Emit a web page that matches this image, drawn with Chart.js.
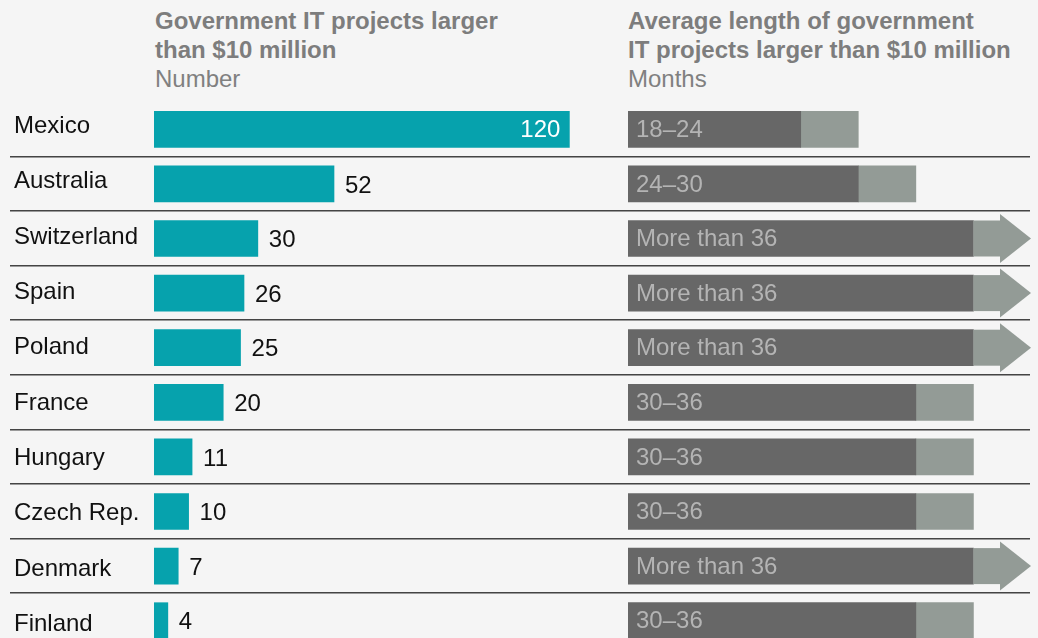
<!DOCTYPE html>
<html>
<head>
<meta charset="utf-8">
<script src="https://cdn.jsdelivr.net/npm/chart.js@4.4.1/dist/chart.umd.min.js"></script>
<style>
  html, body { margin: 0; padding: 0; background: #f5f5f5; overflow: hidden; }
  #wrap { position: relative; width: 1038px; height: 638px; overflow: hidden; background: #f5f5f5; }
  canvas { position: absolute; left: 0; top: 0; }
  .title {
    position: absolute; top: 6px;
    font-family: 'Liberation Sans', Arial, sans-serif;
    font-size: 24px; line-height: 29px; color: #808080; white-space: nowrap;
  }
  .title b { font-weight: bold; color: #7d7d7d; }
</style>
</head>
<body>
<div id="wrap">
  <div class="title" style="left:155px"><b>Government IT projects larger<br>than $10 million</b><br>Number</div>
  <div class="title" style="left:628px"><b>Average length of government<br>IT projects larger than $10 million</b><br>Months</div>
  <canvas id="counts" width="1038" height="700"></canvas>
  <canvas id="months" width="1038" height="700"></canvas>
</div>
<script>
const FONT = "'Liberation Sans', Arial, sans-serif";

// Countries, top to bottom
const countries = ['Mexico', 'Australia', 'Switzerland', 'Spain', 'Poland',
                   'France', 'Hungary', 'Czech Rep.', 'Denmark', 'Finland'];
// Number of government IT projects larger than $10 million
const projectCounts = [120, 52, 30, 26, 25, 20, 11, 10, 7, 4];
// Average project length in months: lower and upper bound (null = open-ended)
const monthLow  = [18, 24, 36, 36, 36, 30, 30, 30, 36, 30];
const monthHigh = [24, 30, null, null, null, 36, 36, 36, null, 36];
const monthLabels = ['18–24', '24–30', 'More than 36', 'More than 36', 'More than 36',
                     '30–36', '30–36', '30–36', 'More than 36', '30–36'];
// Where open-ended ranges point to on the months axis
const OPEN_END = 42;
// Extent of the country-name axis (row index units)
const NAMES_MIN = 0.052, NAMES_MAX = 8.936;

const TEAL = '#06a2ad';
const DARK = '#676767';
const LIGHT = '#939b96';

// Horizontal rules between the country rows, across the full width
const separators = {
  id: 'separators',
  beforeDatasetsDraw(chart) {
    const y = chart.scales.y, ctx = chart.ctx;
    ctx.save();
    for (let i = 1; i < countries.length; i++) {
      const py = Math.round((y.getPixelForValue(i - 1) + y.getPixelForValue(i)) / 2);
      ctx.fillStyle = '#444444';
      ctx.fillRect(10, py - 1, 1020, 1);
      ctx.fillStyle = '#9a9a9a';
      ctx.fillRect(10, py, 1020, 1);
    }
    ctx.restore();
  }
};

// Value labels for the project counts
const countLabels = {
  id: 'countLabels',
  afterDatasetsDraw(chart) {
    const ctx = chart.ctx;
    const meta = chart.getDatasetMeta(0);
    ctx.save();
    ctx.font = '24px ' + FONT;
    ctx.textBaseline = 'middle';
    meta.data.forEach((bar, i) => {
      const v = projectCounts[i];
      if (bar.x - bar.base > 300) {
        ctx.fillStyle = '#ffffff';
        ctx.textAlign = 'right';
        ctx.fillText(String(v), bar.x - 9, bar.y + 1);
      } else {
        ctx.fillStyle = '#111111';
        ctx.textAlign = 'left';
        ctx.fillText(String(v), bar.x + 11, bar.y + 2);
      }
    });
    ctx.restore();
  }
};

new Chart(document.getElementById('counts'), {
  type: 'bar',
  data: {
    labels: countries,
    datasets: [{ data: projectCounts, backgroundColor: TEAL, barThickness: 36 }]
  },
  options: {
    indexAxis: 'y',
    responsive: false,
    animation: false,
    layout: { padding: { left: 14, right: 434, top: 102, bottom: 52 } },
    plugins: { legend: { display: false }, tooltip: { enabled: false } },
    scales: {
      x: { min: 0, max: 130, display: false },
      y: { display: false },
      // Country names, on a slightly looser row pitch than the bars
      names: {
        type: 'linear',
        position: 'left',
        reverse: true,
        bounds: 'data',
        min: NAMES_MIN,
        max: NAMES_MAX,
        grid: { display: false },
        border: { display: false },
        afterBuildTicks(scale) {
          scale.ticks = countries.map((_, i) => ({ value: i }));
          scale.min = NAMES_MIN;
          scale.max = NAMES_MAX;
        },
        ticks: {
          crossAlign: 'far', autoSkip: false, padding: 0,
          color: '#111111', font: { family: FONT, size: 24 },
          callback: v => countries[v]
        },
        afterFit(scale) { scale.width = 140; }
      }
    }
  },
  plugins: [separators, countLabels]
});

// Arrowheads for open-ended ranges, and the range text inside the bars
const rangeDecor = {
  id: 'rangeDecor',
  afterDatasetsDraw(chart) {
    const ctx = chart.ctx;
    const dark = chart.getDatasetMeta(0).data;
    const range = chart.getDatasetMeta(1).data;
    ctx.save();
    range.forEach((el, i) => {
      if (monthHigh[i] !== null) return;
      const h = el.height || 36;
      const headLen = 31, headHalf = h * 0.68;
      const start = Math.min(el.base, el.x), tip = Math.max(el.base, el.x);
      ctx.fillStyle = LIGHT;
      ctx.fillRect(start, el.y - h / 2, tip - headLen - start, h);
      ctx.beginPath();
      ctx.moveTo(tip - headLen, el.y - headHalf);
      ctx.lineTo(tip, el.y);
      ctx.lineTo(tip - headLen, el.y + headHalf);
      ctx.closePath();
      ctx.fill();
    });
    ctx.font = '24px ' + FONT;
    ctx.textBaseline = 'middle';
    ctx.textAlign = 'left';
    ctx.fillStyle = '#b4b4b4';
    dark.forEach((el, i) => {
      ctx.fillText(monthLabels[i], Math.min(el.base, el.x) + 8, el.y + 1);
    });
    ctx.restore();
  }
};

new Chart(document.getElementById('months'), {
  type: 'bar',
  data: {
    labels: countries,
    datasets: [
      { data: monthLow, backgroundColor: DARK, barThickness: 36, grouped: false },
      {
        data: monthLow.map((lo, i) => [lo, monthHigh[i] === null ? OPEN_END : monthHigh[i]]),
        backgroundColor: monthHigh.map(h => h === null ? 'rgba(0,0,0,0)' : LIGHT),
        barThickness: 36, grouped: false
      }
    ]
  },
  options: {
    indexAxis: 'y',
    responsive: false,
    animation: false,
    layout: { padding: { left: 628, right: 7, top: 102, bottom: 52 } },
    plugins: { legend: { display: false }, tooltip: { enabled: false } },
    scales: {
      x: { min: 0, max: OPEN_END, display: false },
      y: { display: false }
    }
  },
  plugins: [rangeDecor]
});
</script>
</body>
</html>
